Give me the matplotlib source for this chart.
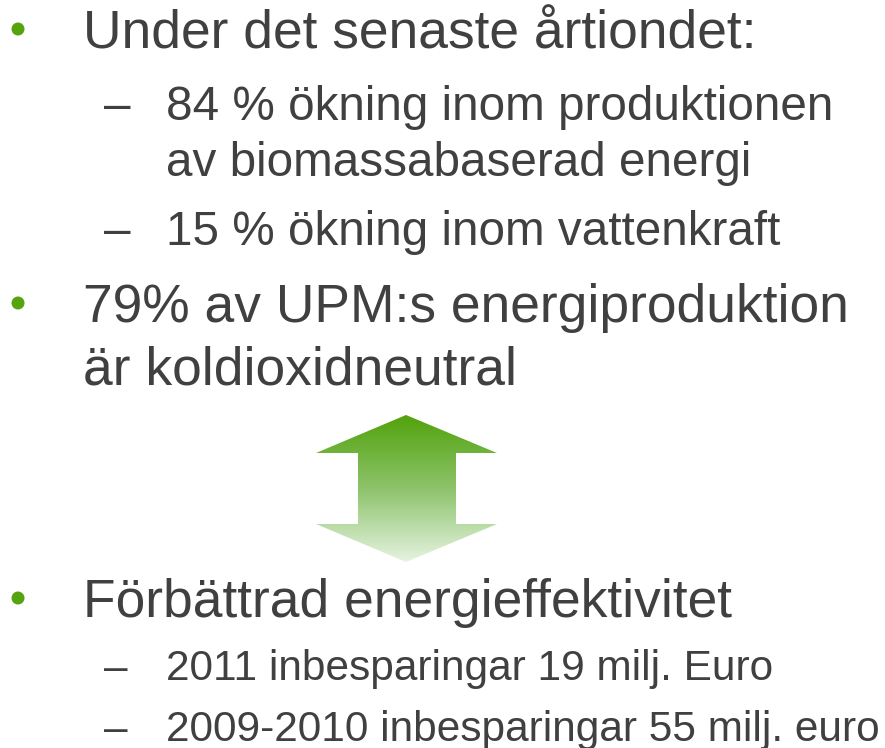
import numpy as np
import matplotlib.pyplot as plt
from matplotlib.patches import Polygon, Circle
from matplotlib.colors import LinearSegmentedColormap

plt.rcParams['font.family'] = ['Liberation Sans', 'DejaVu Sans']

text_col = "#404040"
green = "#55a30f"

# main bullets: (text, baseline y)
main_lines = ["Under det senaste årtiondet:",
              "79% av UPM:s energiproduktion",
              "är koldioxidneutral",
              "Förbättrad energieffektivitet"]
main_y = [48, 322, 384, 617]
main_bullet = [True, True, False, True]

sub_lines = ["84 % ökning inom produktionen",
             "av biomassabaserad energi",
             "15 % ökning inom vattenkraft"]
sub_y = [120, 176, 245]
sub_dash = [True, False, True]

small_lines = ["2011 inbesparingar 19 milj. Euro",
               "2009-2010 inbesparingar 55 milj. euro"]
small_y = [680, 741]

fig = plt.figure(figsize=(8.85, 7.48), dpi=100)
ax = fig.add_axes([0, 0, 1, 1])
ax.set_xlim(0, 885)
ax.set_ylim(748, 0)
ax.axis("off")

for t, y, b in zip(main_lines, main_y, main_bullet):
    ax.text(83, y, t, fontsize=38.4, color=text_col, va="baseline", ha="left")
    if b:
        ax.add_patch(Circle((18, y - 19), 6.5, color=green, lw=0))

for t, y, d in zip(sub_lines, sub_y, sub_dash):
    ax.text(166, y, t, fontsize=34.3, color=text_col, va="baseline", ha="left")
    if d:
        ax.text(104, y, "–", fontsize=34.3, color=text_col, va="baseline", ha="left")

for t, y in zip(small_lines, small_y):
    ax.text(166, y, t, fontsize=30.5, color=text_col, va="baseline", ha="left")
    ax.text(104, y, "–", fontsize=30.5, color=text_col, va="baseline", ha="left")

# double arrow with gradient fill
arrow_pts = [(406, 415), (497, 453), (456, 453), (456, 524), (497, 524),
             (406, 562), (316, 524), (358, 524), (358, 453), (316, 453)]
poly = Polygon(arrow_pts, closed=True, facecolor="none", edgecolor="none")
ax.add_patch(poly)
cmap = LinearSegmentedColormap.from_list("g", ["#52a20c", "#8dc36b", "#e6f3e0"])
grad = np.linspace(0, 1, 256).reshape(-1, 1)
im = ax.imshow(grad, cmap=cmap, extent=(316, 497, 562, 415), aspect="auto",
               interpolation="bilinear")
im.set_clip_path(poly)
ax.set_xlim(0, 885)
ax.set_ylim(748, 0)

fig.savefig("out.png", dpi=100)
